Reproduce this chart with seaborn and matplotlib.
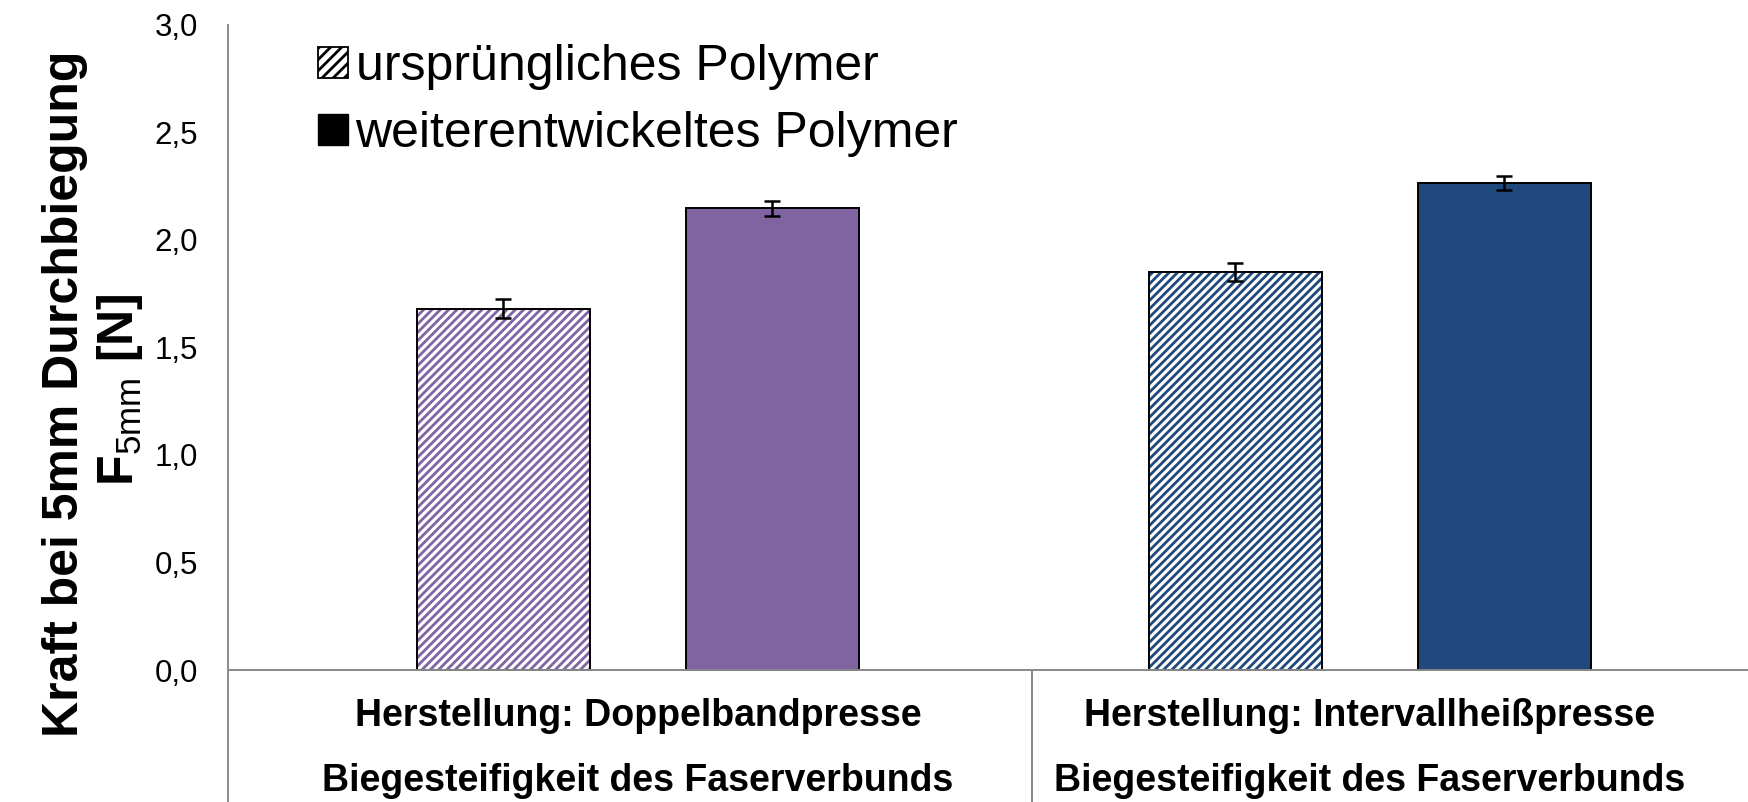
import numpy as np
import pandas as pd
import seaborn as sns
import matplotlib.pyplot as plt
from matplotlib.patches import Patch, Rectangle

# Data
categories = ["Herstellung: Doppelbandpresse", "Herstellung: Intervallheißpresse"]
sub_label = "Biegesteifigkeit des Faserverbunds"
polymers = ["ursprüngliches Polymer", "weiterentwickeltes Polymer"]
values_orig = [1.68, 1.85]
values_new = [2.145, 2.263]
err_orig = [0.042, 0.043]
err_new = [0.033, 0.031]
group_colors = ["#8064A2", "#1F497D"]
yticks = [0.0, 0.5, 1.0, 1.5, 2.0, 2.5, 3.0]

df = pd.DataFrame({
    "Herstellung": categories * 2,
    "Polymer": [polymers[0]] * 2 + [polymers[1]] * 2,
    "F": values_orig + values_new,
})

sns.set_style("white")
plt.rcParams["font.family"] = ["Liberation Sans", "DejaVu Sans"]
plt.rcParams["text.color"] = "black"
plt.rcParams["mathtext.fontset"] = "custom"
plt.rcParams["mathtext.rm"] = "Liberation Sans"
plt.rcParams["hatch.linewidth"] = 2.0

axis_gray = "#898989"
W, H = 1748, 802

fig = plt.figure(figsize=(W / 100, H / 100), dpi=100)
ax = fig.add_axes([228 / W, 0, 1 - 228 / W, (H - 24.5) / H])

sns.barplot(data=df, x="Herstellung", y="F", hue="Polymer", order=categories,
            hue_order=polymers, width=0.735, gap=0.358, errorbar=None,
            legend=False, ax=ax)

# colour bars per group, hatch the original polymer
errs = [err_orig, err_new]
bar_conts = list(ax.containers)
for hi, cont in enumerate(bar_conts):
    xs, hs = [], []
    for ci, bar in enumerate(cont):
        col = group_colors[ci]
        if hi == 0:
            bar.set_facecolor("white")
            bar.set_edgecolor(col)
            bar.set_hatch("////")
            bar.set_linewidth(0)
            ax.add_patch(Rectangle(bar.get_xy(), bar.get_width(), bar.get_height(),
                                   fill=False, edgecolor="black", lw=1.4, zorder=3))
        else:
            bar.set_facecolor(col)
            bar.set_edgecolor("black")
            bar.set_linewidth(1.4)
        xs.append(bar.get_x() + bar.get_width() / 2)
        hs.append(bar.get_height())
    ax.errorbar(xs, hs, yerr=errs[hi], fmt="none", ecolor="black",
                elinewidth=1.8, capsize=5.5, capthick=1.8, zorder=4)

ymin = -132 / (645.5 / 3)
ax.set_ylim(ymin, 3.0)
ax.set_xlim(-0.560, 1.5165)
ax.set_yticks(yticks)
ax.set_yticklabels([f"{v:.1f}".replace(".", ",") for v in yticks])
ax.set_xticks([])
ax.set_xlabel("")
ax.set_ylabel("")

for s in ["top", "right", "bottom"]:
    ax.spines[s].set_visible(False)
ax.spines["left"].set_color(axis_gray)
ax.spines["left"].set_linewidth(1.4)
ax.tick_params(axis="y", length=8, width=1.4, color=axis_gray, direction="out",
               pad=13.5, labelsize=22.5, labelcolor="black")

ax.axhline(0, color=axis_gray, lw=1.4, zorder=5)
ax.vlines(0.538, ymin, 0, color=axis_gray, lw=1.4)

# category labels (two levels)
trans = ax.get_xaxis_transform()
for i, cat in enumerate(categories):
    ax.text(i, 0.1106, cat, transform=trans, ha="center", va="center",
            fontsize=27, fontweight="bold", color="black")
    ax.text(i, 0.027, sub_label, transform=trans, ha="center", va="center",
            fontsize=27, fontweight="bold", color="black")

# y label in two lines
fig.text(65 / W, 1 - 394 / H, "Kraft bei 5mm Durchbiegung", rotation=90,
         ha="center", va="center", fontsize=36, fontweight="bold", color="black")
fig.text(120 / W, 1 - 390 / H, r"F$_{\mathrm{5mm}}$ [N]", rotation=90,
         ha="center", va="center", fontsize=36, fontweight="bold", color="black")

handles = [Patch(facecolor="white", edgecolor="black", hatch="///", lw=1.3),
           Patch(facecolor="black", edgecolor="black")]
leg = fig.legend(handles, polymers, loc="center left",
                 bbox_to_anchor=(318 / W, 1 - 100.5 / H),
                 frameon=False, fontsize=36, handlelength=0.6, handleheight=0.6,
                 handletextpad=0.15, labelspacing=0.42, borderpad=0, borderaxespad=0)
for t in leg.get_texts():
    t.set_color("black")

fig.savefig("out.png", dpi=100)
